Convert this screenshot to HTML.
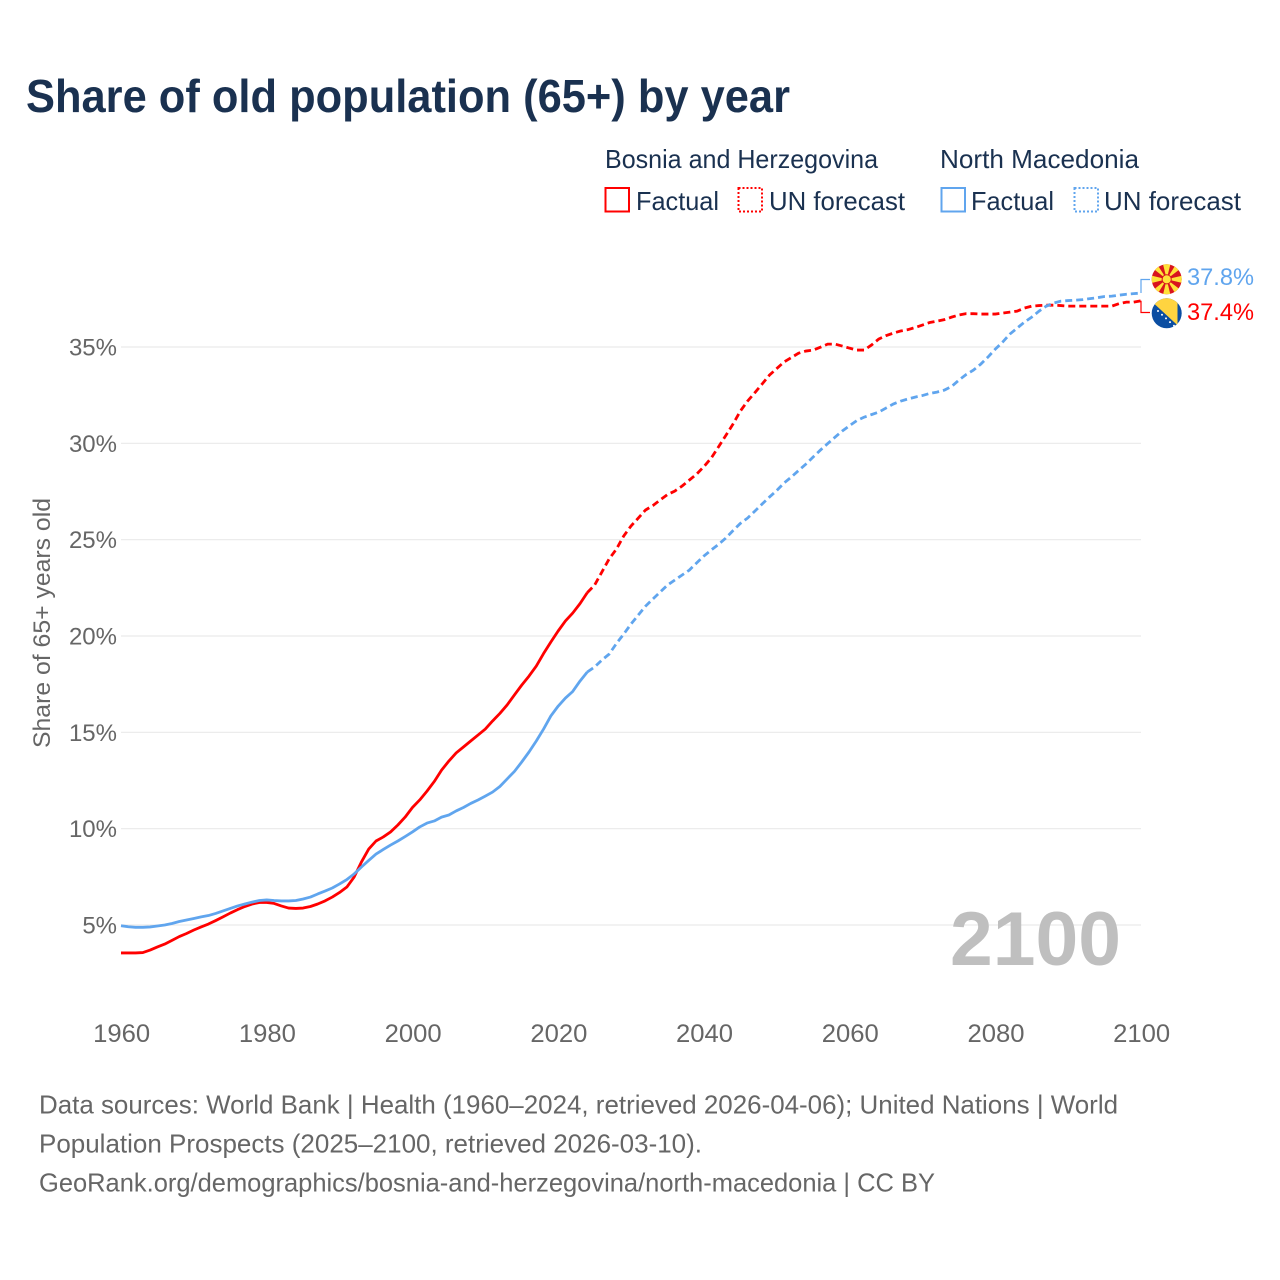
<!DOCTYPE html>
<html lang="en">
<head>
<meta charset="utf-8">
<title>Share of old population (65+) by year</title>
<style>
html,body{margin:0;padding:0;background:#fff;}
svg{display:block;}
text{font-family:"Liberation Sans",sans-serif;}
</style>
</head>
<body>
<svg id="chart" xmlns="http://www.w3.org/2000/svg" width="1280" height="1280" viewBox="0 0 1280 1280">
  <rect x="0" y="0" width="1280" height="1280" fill="#ffffff"/>
  <text x="26" y="112" font-size="46" font-weight="700" fill="#1a3150" textLength="764" lengthAdjust="spacingAndGlyphs">Share of old population (65+) by year</text>

  <g font-size="26" fill="#1a3150">
    <text x="605" y="168" textLength="273" lengthAdjust="spacingAndGlyphs">Bosnia and Herzegovina</text>
    <rect x="605.5" y="188" width="23.5" height="23.5" fill="none" stroke="#ff0000" stroke-width="2"/>
    <text x="636" y="210" textLength="83" lengthAdjust="spacingAndGlyphs">Factual</text>
    <rect x="738.5" y="188" width="23.5" height="23.5" fill="none" stroke="#ff0000" stroke-width="2" stroke-dasharray="2 2"/>
    <text x="769" y="210" textLength="136" lengthAdjust="spacingAndGlyphs">UN forecast</text>

    <text x="940" y="168" textLength="199" lengthAdjust="spacingAndGlyphs">North Macedonia</text>
    <rect x="941.5" y="188" width="23.5" height="23.5" fill="none" stroke="#60a5ee" stroke-width="2"/>
    <text x="971" y="210" textLength="83" lengthAdjust="spacingAndGlyphs">Factual</text>
    <rect x="1074.5" y="188" width="23.5" height="23.5" fill="none" stroke="#60a5ee" stroke-width="2" stroke-dasharray="2 2"/>
    <text x="1104" y="210" textLength="137" lengthAdjust="spacingAndGlyphs">UN forecast</text>
  </g>

  <g id="grid"></g>
  <g id="yticks"></g>
  <g id="xticks"></g>

  <text transform="translate(50,623) rotate(-90)" text-anchor="middle" font-size="24" fill="#666666" textLength="250" lengthAdjust="spacingAndGlyphs">Share of 65+ years old</text>

  <text x="950" y="965" font-size="76" font-weight="700" fill="#bfbfbf" textLength="171" lengthAdjust="spacingAndGlyphs">2100</text>

  <g id="series"></g>

  <defs>
    <clipPath id="flag-clip-mk"><circle cx="1166.7" cy="279.3" r="15"/></clipPath>
    <clipPath id="flag-clip-ba"><circle cx="1166.7" cy="313.3" r="15"/></clipPath>
  </defs>

  <g clip-path="url(#flag-clip-mk)">
    <rect x="1151" y="264" width="32" height="31" fill="#d8141e"/>
    <g fill="#ffe23a">
      <polygon points="1166.7,279.3 1162.7,263 1170.7,263"/>
      <polygon points="1166.7,279.3 1162.7,296 1170.7,296"/>
      <polygon points="1166.7,279.3 1150,275.3 1150,283.3"/>
      <polygon points="1166.7,279.3 1184,275.3 1184,283.3"/>
      <polygon points="1166.7,279.3 1150,266 1150,261 1155,261"/>
      <polygon points="1166.7,279.3 1184,266 1184,261 1178,261"/>
      <polygon points="1166.7,279.3 1150,292.5 1150,298 1155,298"/>
      <polygon points="1166.7,279.3 1184,292.5 1184,298 1178,298"/>
    </g>
    <circle cx="1166.7" cy="279.3" r="4.6" fill="#ffe23a" stroke="#d8141e" stroke-width="1"/>
  </g>

  <g clip-path="url(#flag-clip-ba)">
    <rect x="1151" y="298" width="32" height="31" fill="#0b4ea2"/>
    <polygon points="1148,298 1177.5,298 1177.5,325.3" fill="#ffd440"/>
    <g fill="#ffffff">
      <circle cx="1158" cy="311" r="1"/>
      <circle cx="1162" cy="314.7" r="1"/>
      <circle cx="1166" cy="318.4" r="1"/>
      <circle cx="1170" cy="322.1" r="1"/>
      <circle cx="1174" cy="325.8" r="1"/>
    </g>
  </g>

  <text x="1187" y="285" font-size="24" fill="#60a5ee" textLength="67" lengthAdjust="spacingAndGlyphs">37.8%</text>
  <text x="1187" y="320" font-size="24" fill="#ff0000" textLength="67" lengthAdjust="spacingAndGlyphs">37.4%</text>

  <g font-size="26" fill="#666666">
    <text x="39" y="1113.5" textLength="1079" lengthAdjust="spacingAndGlyphs">Data sources: World Bank | Health (1960–2024, retrieved 2026-04-06); United Nations | World</text>
    <text x="39" y="1152.5" textLength="663" lengthAdjust="spacingAndGlyphs">Population Prospects (2025–2100, retrieved 2026-03-10).</text>
    <text x="39" y="1191.5" textLength="896" lengthAdjust="spacingAndGlyphs">GeoRank.org/demographics/bosnia-and-herzegovina/north-macedonia | CC BY</text>
  </g>
</svg>

<script>
const xTickYears = [1960, 1980, 2000, 2020, 2040, 2060, 2080, 2100];
const yTickValues = [5, 10, 15, 20, 25, 30, 35];
const yTickLabels = ["5%", "10%", "15%", "20%", "25%", "30%", "35%"];

const factualStartYear = 1960;
const forecastStartYear = 2025;

const bosniaFactual = [
  3.55,3.55,3.55,3.57,3.70,3.86,4.01,4.20,4.40,4.56,
  4.74,4.90,5.05,5.23,5.42,5.62,5.80,5.96,6.09,6.17,
  6.17,6.12,5.99,5.88,5.86,5.88,5.96,6.09,6.25,6.45,
  6.69,6.97,7.49,8.27,8.94,9.36,9.57,9.83,10.19,10.60,
  11.10,11.49,11.95,12.45,13.04,13.51,13.93,14.24,14.55,14.86,
  15.17,15.59,15.98,16.42,16.94,17.45,17.92,18.44,19.09,19.69,
  20.26,20.78,21.19,21.68,22.25
];
const bosniaForecast = [
  22.64,23.32,24.00,24.51,25.19,25.71,26.12,26.54,26.77,27.06,
  27.34,27.52,27.78,28.09,28.40,28.79,29.23,29.81,30.40,31.00,
  31.67,32.19,32.63,33.08,33.54,33.88,34.22,34.45,34.68,34.79,
  34.84,34.99,35.15,35.15,35.05,34.94,34.84,34.84,35.10,35.41,
  35.59,35.72,35.83,35.90,36.01,36.14,36.27,36.34,36.42,36.55,
  36.66,36.73,36.73,36.71,36.71,36.71,36.76,36.81,36.86,37.02,
  37.12,37.15,37.17,37.17,37.15,37.12,37.12,37.12,37.12,37.12,
  37.12,37.12,37.25,37.33,37.33,37.40
];
const macedoniaFactual = [
  4.96,4.91,4.88,4.88,4.90,4.95,5.00,5.08,5.18,5.26,
  5.34,5.42,5.49,5.60,5.73,5.86,5.99,6.09,6.19,6.27,
  6.30,6.27,6.25,6.25,6.27,6.35,6.45,6.61,6.76,6.92,
  7.13,7.36,7.65,8.01,8.35,8.68,8.92,9.15,9.36,9.59,
  9.83,10.09,10.29,10.40,10.60,10.71,10.92,11.10,11.31,11.49,
  11.69,11.90,12.19,12.58,12.97,13.46,13.98,14.55,15.17,15.85,
  16.36,16.78,17.12,17.66,18.13
];
const macedoniaForecast = [
  18.39,18.75,19.06,19.61,20.10,20.62,21.09,21.55,21.92,22.28,
  22.64,22.90,23.16,23.42,23.79,24.15,24.46,24.75,25.08,25.47,
  25.84,26.12,26.48,26.85,27.21,27.55,27.94,28.25,28.59,28.92,
  29.29,29.65,29.99,30.32,30.64,30.92,31.18,31.36,31.49,31.62,
  31.83,32.04,32.19,32.30,32.40,32.48,32.59,32.66,32.76,32.95,
  33.28,33.57,33.80,34.11,34.48,34.89,35.25,35.67,35.98,36.29,
  36.55,36.86,37.12,37.28,37.38,37.41,37.43,37.46,37.51,37.56,
  37.62,37.64,37.69,37.74,37.77,37.80
];

const NS = "http://www.w3.org/2000/svg";
const BOSNIA_COLOR = "#ff0000";
const MACEDONIA_COLOR = "#60a5ee";

function xScale(year) {
  return 121 + (year - 1960) * (1020 / 140);
}
function yScale(value) {
  return 925 - (value - 5) * (578 / 30);
}
function make(tag, attrs) {
  const el = document.createElementNS(NS, tag);
  Object.keys(attrs).forEach(function (k) { el.setAttribute(k, attrs[k]); });
  return el;
}
function linePath(values, startYear, prev) {
  const pts = values.map(function (v, i) {
    return xScale(startYear + i).toFixed(2) + "," + yScale(v).toFixed(2);
  });
  if (prev !== undefined) {
    pts.unshift(xScale(startYear - 1).toFixed(2) + "," + yScale(prev).toFixed(2));
  }
  return "M" + pts.join("L");
}

const grid = document.getElementById("grid");
const yticks = document.getElementById("yticks");
yTickValues.forEach(function (v, i) {
  const line = make("line", {
    x1: xScale(1960), x2: xScale(2100), y1: yScale(v), y2: yScale(v),
    stroke: "#e9e9e9", "stroke-width": 1.2
  });
  
  
  grid.appendChild(line);

  const label = make("text", {
    x: 117, y: yScale(v) + 8.5, "text-anchor": "end",
    "font-size": 24, fill: "#666666"
  });
  
  
  label.textContent = yTickLabels[i];
  yticks.appendChild(label);
});

const xticks = document.getElementById("xticks");
xTickYears.forEach(function (year) {
  const label = make("text", {
    x: xScale(year) + 0.7, y: 1042, "text-anchor": "middle",
    "font-size": 25, fill: "#666666",
    textLength: 57, lengthAdjust: "spacingAndGlyphs"
  });
  
  
  label.textContent = String(year);
  xticks.appendChild(label);
});

const series = document.getElementById("series");

const bosniaSolid = make("path", {
  d: linePath(bosniaFactual, factualStartYear),
  fill: "none", stroke: BOSNIA_COLOR, "stroke-width": 2.8, "stroke-linejoin": "round"
});



const bosniaDash = make("path", {
  d: linePath(bosniaForecast, forecastStartYear, bosniaFactual[bosniaFactual.length - 1]),
  fill: "none", stroke: BOSNIA_COLOR, "stroke-width": 2.8, "stroke-dasharray": "7 4"
});



const macedoniaSolid = make("path", {
  d: linePath(macedoniaFactual, factualStartYear),
  fill: "none", stroke: MACEDONIA_COLOR, "stroke-width": 2.8, "stroke-linejoin": "round"
});



const macedoniaDash = make("path", {
  d: linePath(macedoniaForecast, forecastStartYear, macedoniaFactual[macedoniaFactual.length - 1]),
  fill: "none", stroke: MACEDONIA_COLOR, "stroke-width": 2.8, "stroke-dasharray": "7 4"
});



series.appendChild(bosniaSolid);
series.appendChild(bosniaDash);
series.appendChild(macedoniaSolid);
series.appendChild(macedoniaDash);

const endX = xScale(2100);
const macedoniaEndY = yScale(macedoniaForecast[macedoniaForecast.length - 1]);
const bosniaEndY = yScale(bosniaForecast[bosniaForecast.length - 1]);

const macedoniaConnector = make("path", {
  d: "M" + endX + "," + macedoniaEndY + "V279.5H1150",
  fill: "none", stroke: MACEDONIA_COLOR, "stroke-width": 1.2
});


series.appendChild(macedoniaConnector);

const bosniaConnector = make("path", {
  d: "M" + endX + "," + bosniaEndY + "V312.5H1150",
  fill: "none", stroke: BOSNIA_COLOR, "stroke-width": 1.2
});


series.appendChild(bosniaConnector);
</script>
</body>
</html>
